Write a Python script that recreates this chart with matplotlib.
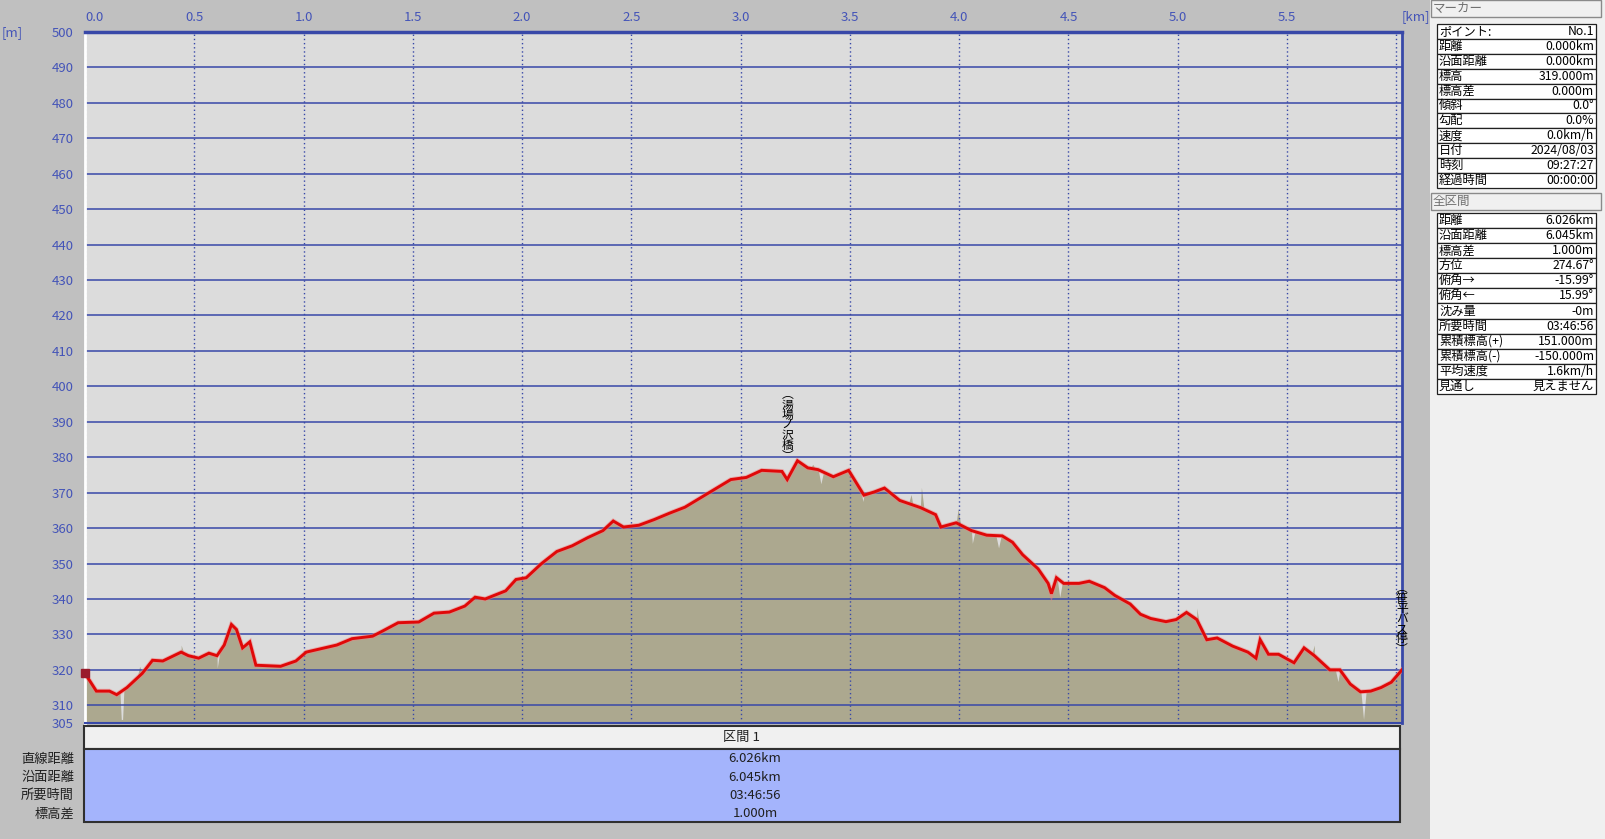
import numpy as np
import matplotlib
matplotlib.use("Agg")
import matplotlib.pyplot as plt
from matplotlib.patches import Rectangle

plt.rcParams['font.family'] = ['Noto Sans CJK JP', 'DejaVu Sans']

# 距離[km] と 標高[m] (赤い線)
dist_km = [0.000, 0.052, 0.112, 0.145, 0.192, 0.262, 0.309, 0.356, 0.440, 0.473,
           0.520, 0.567, 0.604, 0.637, 0.670, 0.693, 0.721, 0.754, 0.782, 0.895,
           0.965, 1.012, 1.082, 1.152, 1.222, 1.316, 1.363, 1.433, 1.527, 1.597,
           1.667, 1.738, 1.785, 1.831, 1.925, 1.972, 2.019, 2.089, 2.159, 2.229,
           2.300, 2.370, 2.417, 2.464, 2.534, 2.604, 2.674, 2.745, 2.815, 2.885,
           2.955, 3.026, 3.096, 3.189, 3.213, 3.260, 3.307, 3.354, 3.424, 3.494,
           3.564, 3.611, 3.658, 3.728, 3.822, 3.892, 3.916, 3.986, 4.056, 4.126,
           4.197, 4.244, 4.290, 4.361, 4.407, 4.422, 4.445, 4.478, 4.548, 4.595,
           4.665, 4.712, 4.782, 4.829, 4.876, 4.946, 4.993, 5.040, 5.087, 5.133,
           5.180, 5.251, 5.321, 5.358, 5.377, 5.415, 5.461, 5.532, 5.578, 5.625,
           5.696, 5.742, 5.789, 5.836, 5.883, 5.930, 5.977, 6.026]
elev_m = [319.0, 314.0, 314.0, 313.0, 315.0, 319.0, 322.7, 322.5, 325.0, 324.0,
          323.3, 324.7, 324.0, 327.0, 332.8, 331.4, 326.2, 327.9, 321.3, 321.0,
          322.5, 325.0, 326.0, 327.0, 328.8, 329.5, 331.0, 333.3, 333.5, 336.0,
          336.3, 338.0, 340.5, 340.0, 342.3, 345.5, 346.0, 350.0, 353.4, 355.0,
          357.3, 359.3, 362.0, 360.3, 360.8, 362.4, 364.2, 365.9, 368.5, 371.1,
          373.7, 374.3, 376.3, 376.0, 373.7, 379.0, 377.0, 376.5, 374.5, 376.3,
          369.3, 370.2, 371.3, 367.8, 365.8, 363.8, 360.3, 361.5, 359.3, 358.0,
          357.8, 356.0, 352.5, 348.5, 344.4, 341.5, 346.0, 344.4, 344.4, 345.0,
          343.2, 341.0, 338.6, 335.7, 334.5, 333.6, 334.2, 336.2, 334.2, 328.5,
          329.0, 326.7, 325.0, 323.3, 328.5, 324.4, 324.4, 322.0, 326.2, 324.0,
          320.0, 320.0, 316.0, 313.8, 314.0, 315.0, 316.5, 320.0]

# 地形(塗り)が線から外れる所
spike_km = [0.166, 0.172, 0.250, 0.440, 0.605, 3.330, 3.367, 3.560, 3.780, 3.800,
            3.827, 3.995, 4.060, 4.180, 4.460, 5.087, 5.625, 5.733, 5.850]
spike_m = [306.0, 306.0, 321.0, 327.0, 320.5, 378.0, 372.5, 367.5, 369.5, 366.0,
           371.5, 365.5, 355.7, 354.4, 340.5, 337.5, 327.0, 316.7, 306.0]

# 地点名
label_names = ["︵湯場ノ沢橋︶", "︵笹平バス停︶"]
label_km = [3.213, 6.026]
label_m = [378.5, 324.0]

x_ticks = [0.0, 0.5, 1.0, 1.5, 2.0, 2.5, 3.0, 3.5, 4.0, 4.5, 5.0, 5.5]
y_ticks = [305, 310, 320, 330, 340, 350, 360, 370, 380, 390, 400, 410, 420,
           430, 440, 450, 460, 470, 480, 490, 500]

marker_rows = [("ポイント:", "No.1"), ("距離", "0.000km"), ("沿面距離", "0.000km"),
               ("標高", "319.000m"), ("標高差", "0.000m"), ("傾斜", "0.0°"),
               ("勾配", "0.0%"), ("速度", "0.0km/h"), ("日付", "2024/08/03"),
               ("時刻", "09:27:27"), ("経過時間", "00:00:00")]
total_rows = [("距離", "6.026km"), ("沿面距離", "6.045km"), ("標高差", "1.000m"),
              ("方位", "274.67°"), ("俯角→", "-15.99°"), ("俯角←", "15.99°"),
              ("沈み量", "-0m"), ("所要時間", "03:46:56"), ("累積標高(+)", "151.000m"),
              ("累積標高(-)", "-150.000m"), ("平均速度", "1.6km/h"), ("見通し", "見えません")]
section_labels = ["直線距離", "沿面距離", "所要時間", "標高差"]
section_values = ["6.026km", "6.045km", "03:46:56", "1.000m"]

W, H = 1605, 839
blue = '#3848a8'
tick_blue = '#4454b8'

fig = plt.figure(figsize=(W / 100, H / 100), dpi=100, facecolor='#c0c0c0')

# ---- profile axes
ax = fig.add_axes([85 / W, 1 - 723 / H, (1402 - 85) / W, (723 - 32) / H])
ax.set_facecolor('#dcdcdc')
ax.set_xlim(0, dist_km[-1])
ax.set_ylim(305, 500)

base_km = np.array(dist_km)
base_m = np.array(elev_m)
sk = np.array(spike_km)
w = 0.012
sh = np.concatenate([sk - w, sk + w])
t_km = np.concatenate([base_km, sk, sh])
t_m = np.concatenate([base_m, np.array(spike_m), np.interp(sh, base_km, base_m)])
order = np.argsort(t_km)
ax.fill_between(t_km[order], 305, t_m[order], color='#aca88f', lw=0, zorder=1)

for yv in y_ticks[1:-1]:
    ax.axhline(yv, color=blue, lw=1.1, zorder=2)
for xv in np.arange(0, 6.01, 0.5):
    ax.axvline(xv, color=blue, lw=1, ls=(0, (1, 2)), zorder=2)

ax.plot(dist_km, elev_m, color='#f08080', lw=3.4, alpha=0.5, zorder=3,
        solid_joinstyle='miter')
ax.plot(dist_km, elev_m, color='#e00808', lw=2.1, zorder=4, solid_joinstyle='miter')
ax.plot(dist_km[0], elev_m[0], marker='s', ms=6, color='#9a1c2c', zorder=5, clip_on=False)

# 縦書きの地点名 (1文字ずつ積む)
pitch = 10.2
for name, xk, ym in zip(label_names, label_km, label_m):
    n = len(name)
    for i, ch in enumerate(name):
        ax.annotate(ch, xy=(xk, ym), xytext=(0, (n - 1 - i) * pitch),
                    textcoords='offset pixels', ha='center', va='bottom',
                    fontsize=8.5, color='black', zorder=6, annotation_clip=False)

ax.xaxis.tick_top()
ax.set_xticks(x_ticks)
ax.set_xticklabels([f"{v:.1f}" for v in x_ticks])
ax.get_xticklabels()[0].set_ha('left')
ax.set_yticks(y_ticks)
ax.set_yticklabels([str(v) for v in y_ticks])
ax.tick_params(axis='x', length=0, pad=6, colors=tick_blue, labelsize=9.5)
ax.tick_params(axis='y', length=0, pad=8, colors=tick_blue, labelsize=9.5)
for s in ['top', 'right', 'bottom']:
    ax.spines[s].set_color(blue)
ax.spines['top'].set_linewidth(2.5)
ax.spines['right'].set_linewidth(2)
ax.spines['bottom'].set_linewidth(1.5)
ax.spines['left'].set_color('white')
ax.spines['left'].set_linewidth(2)

# ---- overlay in pixel coordinates
ov = fig.add_axes([0, 0, 1, 1], zorder=-1)
ov.set_xlim(0, W)
ov.set_ylim(H, 0)
ov.axis('off')

ov.text(2, 33, "[m]", color=tick_blue, fontsize=9.5, ha='left', va='center')
ov.text(1416, 17, "[km]", color=tick_blue, fontsize=9.5, ha='center', va='center')

# bottom section table
ov.add_patch(Rectangle((84, 726), 1316, 23, facecolor='#f0f0f0', edgecolor='#303030', lw=1.5))
ov.text(741, 737.5, "区間 1", ha='center', va='center', fontsize=9.5, color='#202020')
ov.add_patch(Rectangle((84, 749), 1316, 73, facecolor='#a4b4fc', edgecolor='#303030', lw=1.5))
for i, (lab, val) in enumerate(zip(section_labels, section_values)):
    yy = 759 + i * 18.3
    ov.text(74, yy, lab, ha='right', va='center', fontsize=9.5, color='#202020')
    ov.text(755, yy, val, ha='center', va='center', fontsize=9.5, color='#202020')

# right panel
ov.add_patch(Rectangle((1430, 0), 175, H, facecolor='#f0f0f0', edgecolor='none'))


def header(y0, text):
    ov.add_patch(Rectangle((1431, y0), 170, 17, facecolor='#f0f0f0',
                           edgecolor='#8a8a8a', lw=1))
    ov.text(1433, y0 + 8.5, text, ha='left', va='center', fontsize=9, color='#707070')


def table(y0, rows, rh):
    for i, (lab, val) in enumerate(rows):
        yy = y0 + i * rh
        ov.add_patch(Rectangle((1437, yy), 159, rh, facecolor='white',
                               edgecolor='#202020', lw=0.9))
        ov.text(1439, yy + rh / 2, lab, ha='left', va='center', fontsize=8.8, color='black')
        ov.text(1594, yy + rh / 2, val, ha='right', va='center', fontsize=8.8, color='black')


header(0, "マーカー")
table(24, marker_rows, 14.9)
header(193, "全区間")
table(213, total_rows, 15.08)

fig.savefig("out.png", dpi=100, facecolor=fig.get_facecolor())
